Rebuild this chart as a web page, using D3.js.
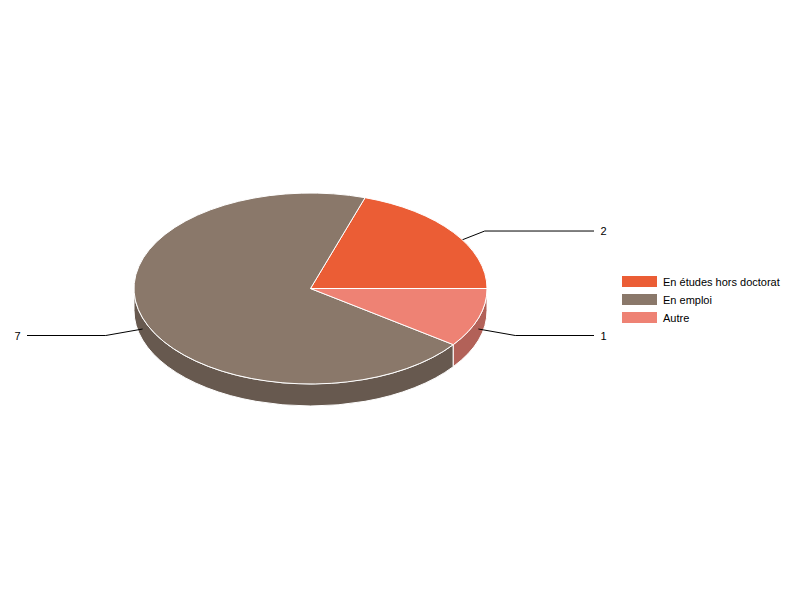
<!DOCTYPE html>
<html>
<head>
<meta charset="utf-8">
<script src="https://cdn.jsdelivr.net/npm/d3@7"></script>
<style>
  html, body { margin: 0; padding: 0; background: #fff; }
  text { font-family: "Liberation Sans", Arial, sans-serif; font-size: 11px; fill: #000; }
</style>
</head>
<body>
<svg id="chart" width="800" height="600"></svg>
<script>
var categories = ["En études hors doctorat", "En emploi", "Autre"];
var values = [2, 7, 1];
var colors = ["#eb5d35", "#8a786a", "#ee8274"];
var wallColors = ["#b04628", "#67594f", "#b26158"];

var settings = {
    cx: 310.5,
    cy: 288.5,
    rx: 176.5,
    ry: 95.5,
    depth: 22,
    elbow: 1.22,
    labelReach: 283.5
};

var svg = d3.select("#chart");

// unit circle -> squashed ellipse
var x = d3.scaleLinear().domain([-1, 1]).range([settings.cx - settings.rx, settings.cx + settings.rx]);
var y = d3.scaleLinear().domain([-1, 1]).range([settings.cy - settings.ry, settings.cy + settings.ry]);

// starts at 3 o'clock and runs anticlockwise
var pie = d3.pie().sort(null).startAngle(Math.PI / 2).endAngle(Math.PI / 2 - 2 * Math.PI);
var slices = pie(values);

function px(a) { return x(Math.sin(a)); }
function py(a) { return y(-Math.cos(a)); }

function topPath(d) {
    var large = Math.abs(d.endAngle - d.startAngle) > Math.PI ? 1 : 0;
    return "M" + settings.cx + "," + settings.cy +
        "L" + px(d.startAngle) + "," + py(d.startAngle) +
        "A" + settings.rx + "," + settings.ry + " 0 " + large + " 0 " + px(d.endAngle) + "," + py(d.endAngle) + "Z";
}

function wallPath(d) {
    // only the front half of the rim can be seen
    var a0 = Math.min(d.startAngle, -Math.PI / 2);
    var a1 = Math.max(d.endAngle, -3 * Math.PI / 2);
    if (a0 <= a1) return null;
    return "M" + px(a0) + "," + py(a0) +
        "A" + settings.rx + "," + settings.ry + " 0 0 0 " + px(a1) + "," + py(a1) +
        "L" + px(a1) + "," + (py(a1) + settings.depth) +
        "A" + settings.rx + "," + settings.ry + " 0 0 1 " + px(a0) + "," + (py(a0) + settings.depth) + "Z";
}

function mid(d) { return (d.startAngle + d.endAngle) / 2; }
function elbowY(d) { return y(-Math.cos(mid(d)) * settings.elbow) + settings.depth / 2; }

svg.append("g").selectAll("path")
    .data(slices.filter(function(d) { return wallPath(d) !== null; }))
    .join("path")
    .attr("d", wallPath)
    .attr("fill", function(d) { return wallColors[d.index]; })
    .attr("stroke", "#fff")
    .attr("stroke-width", 1);

// leader lines go under the top faces
var line = d3.line();
svg.append("g").selectAll("path")
    .data(slices)
    .join("path")
    .attr("d", function(d) {
        var a = mid(d);
        var side = Math.sin(a) > 0 ? 1 : -1;
        return line([
            [px(a), py(a) + settings.depth / 2],
            [x(Math.sin(a) * settings.elbow), elbowY(d)],
            [settings.cx + side * settings.labelReach, elbowY(d)]
        ]);
    })
    .attr("fill", "none")
    .attr("stroke", "#000")
    .attr("stroke-width", 1);

svg.append("g").selectAll("path")
    .data(slices)
    .join("path")
    .attr("d", topPath)
    .attr("fill", function(d) { return colors[d.index]; })
    .attr("stroke", "#fff")
    .attr("stroke-width", 1);

svg.append("g").selectAll("text")
    .data(slices)
    .join("text")
    .attr("x", function(d) {
        return settings.cx + (Math.sin(mid(d)) > 0 ? 1 : -1) * (settings.labelReach + 6.5);
    })
    .attr("y", function(d) { return elbowY(d) + 4; })
    .attr("text-anchor", function(d) { return Math.sin(mid(d)) > 0 ? "start" : "end"; })
    .text(function(d) { return d.value; });

var legendY = d3.scalePoint().domain(categories).range([276, 312]);
var legend = svg.append("g").selectAll("g")
    .data(categories)
    .join("g")
    .attr("transform", function(d) { return "translate(622," + legendY(d) + ")"; });

legend.append("rect")
    .attr("width", 35)
    .attr("height", 11)
    .attr("fill", function(d, i) { return colors[i]; });

legend.append("text")
    .attr("x", 41)
    .attr("y", 10)
    .text(function(d) { return d; });
</script>
</body>
</html>
